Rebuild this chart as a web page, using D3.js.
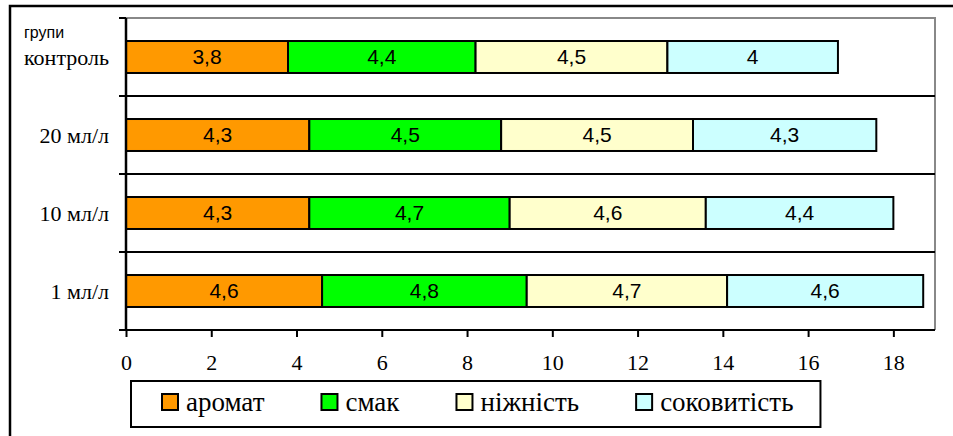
<!DOCTYPE html>
<html>
<head>
<meta charset="utf-8">
<script src="https://cdn.jsdelivr.net/npm/d3@7"></script>
<style>
    body { margin: 0; background: #fff; }
    svg { display: block; }
</style>
</head>
<body>
<svg id="chart" width="953" height="436"></svg>
<script>
// дані з діаграми (зверху вниз)
var groups = ["контроль", "20 мл/л", "10 мл/л", "1 мл/л"];
var seriesNames = ["аромат", "смак", "ніжність", "соковитість"];
var aroma = [3.8, 4.3, 4.3, 4.6];
var taste = [4.4, 4.5, 4.7, 4.8];
var tenderness = [4.5, 4.5, 4.6, 4.7];
var juiciness = [4, 4.3, 4.4, 4.6];
var xTicks = [0, 2, 4, 6, 8, 10, 12, 14, 16, 18];
var axisTitle = "групи";

var rows = groups.map(function(g, i) {
    var r = { group: g };
    r[seriesNames[0]] = aroma[i];
    r[seriesNames[1]] = taste[i];
    r[seriesNames[2]] = tenderness[i];
    r[seriesNames[3]] = juiciness[i];
    return r;
});

var svg = d3.select("#chart");
var plotLeft = 126, plotRight = 936, plotTop = 18, plotBottom = 330;

var x = d3.scaleLinear().domain([0, 19]).range([plotLeft, plotRight]);
var y = d3.scaleBand().domain(groups).range([plotTop, plotBottom]);
var color = d3.scaleOrdinal().domain(seriesNames)
    .range(["#ff9900", "#00ff00", "#ffffcc", "#ccffff"]);

var stacked = d3.stack().keys(seriesNames)(rows);
var bw = y.bandwidth();
var barTop = bw * 0.295, barH = bw * 0.41;

// зовнішня рамка
svg.append("rect")
    .attr("x", 10).attr("y", 6)
    .attr("width", 980).attr("height", 460)
    .attr("fill", "none").attr("stroke", "#000").attr("stroke-width", 2.5);

// рамка області побудови (сіра)
svg.append("path")
    .attr("d", "M" + plotLeft + "," + plotTop + "H" + (plotRight - 1) + "V" + plotBottom)
    .attr("fill", "none").attr("stroke", "#888").attr("stroke-width", 2);

// межі категорій
svg.append("g")
    .selectAll("line")
    .data(groups.slice(1))
    .enter().append("line")
    .attr("x1", plotLeft - 7).attr("x2", plotRight - 1)
    .attr("y1", function(d) { return y(d); })
    .attr("y2", function(d) { return y(d); })
    .attr("stroke", "#000").attr("stroke-width", 2);

svg.append("line")
    .attr("x1", plotLeft - 7).attr("x2", plotLeft)
    .attr("y1", plotTop).attr("y2", plotTop)
    .attr("stroke", "#000").attr("stroke-width", 2);

// смуги
var layer = svg.append("g")
    .selectAll("g")
    .data(stacked)
    .enter().append("g")
    .attr("fill", function(d) { return color(d.key); });

layer.selectAll("rect")
    .data(function(d) { return d; })
    .enter().append("rect")
    .attr("x", function(d) { return x(d[0]); })
    .attr("y", function(d) { return y(d.data.group) + barTop; })
    .attr("width", function(d) { return x(d[1]) - x(d[0]); })
    .attr("height", barH)
    .attr("stroke", "#000").attr("stroke-width", 2);

layer.selectAll("text")
    .data(function(d) { return d; })
    .enter().append("text")
    .attr("x", function(d) { return (x(d[0]) + x(d[1])) / 2; })
    .attr("y", function(d) { return y(d.data.group) + barTop + barH / 2 + 7; })
    .attr("text-anchor", "middle")
    .attr("fill", "#000")
    .style("font-family", "'Liberation Sans', Arial, sans-serif")
    .style("font-size", "21px")
    .text(function(d) { return String(+(d[1] - d[0]).toFixed(1)).replace(".", ","); });

// вісь Y
svg.append("line")
    .attr("x1", plotLeft).attr("x2", plotLeft)
    .attr("y1", plotTop).attr("y2", plotBottom)
    .attr("stroke", "#000").attr("stroke-width", 2.5);

svg.append("g")
    .selectAll("text")
    .data(groups)
    .enter().append("text")
    .attr("x", 109)
    .attr("y", function(d) { return y(d) + bw / 2 + 8; })
    .attr("text-anchor", "end")
    .style("font-family", "'Liberation Serif', 'Times New Roman', serif")
    .style("font-size", "22px")
    .text(function(d) { return d; });

svg.append("text")
    .attr("x", 24).attr("y", 38)
    .style("font-family", "'Liberation Sans', Arial, sans-serif")
    .style("font-size", "16px")
    .text(axisTitle);

// вісь X
var xAxis = svg.append("g")
    .attr("transform", "translate(0," + plotBottom + ")")
    .call(d3.axisBottom(x).tickValues(xTicks).tickSize(7).tickSizeOuter(0));

xAxis.select(".domain").remove();
xAxis.selectAll(".tick line").attr("stroke", "#000").attr("stroke-width", 2);
xAxis.selectAll(".tick text")
    .attr("y", 40).attr("dy", null)
    .attr("fill", "#000")
    .style("font-family", "'Liberation Serif', 'Times New Roman', serif")
    .style("font-size", "22px");

svg.append("line")
    .attr("x1", plotLeft - 7).attr("x2", plotRight - 1)
    .attr("y1", plotBottom).attr("y2", plotBottom)
    .attr("stroke", "#000").attr("stroke-width", 2);

// легенда
var legend = svg.append("g");
var legBox = legend.append("rect")
    .attr("y", 381).attr("height", 46)
    .attr("fill", "#fff").attr("stroke", "#000").attr("stroke-width", 2);

var cx = 162;
seriesNames.forEach(function(name) {
    legend.append("rect")
        .attr("x", cx).attr("y", 394)
        .attr("width", 16).attr("height", 16)
        .attr("fill", color(name))
        .attr("stroke", "#000").attr("stroke-width", 2);
    var t = legend.append("text")
        .attr("x", cx + 24).attr("y", 411)
        .style("font-family", "'Liberation Serif', 'Times New Roman', serif")
        .style("font-size", "27px")
        .text(name);
    cx = cx + 24 + t.node().getComputedTextLength() + 57;
});
legBox.attr("x", 131).attr("width", cx - 57 + 27 - 131);
</script>
</body>
</html>
